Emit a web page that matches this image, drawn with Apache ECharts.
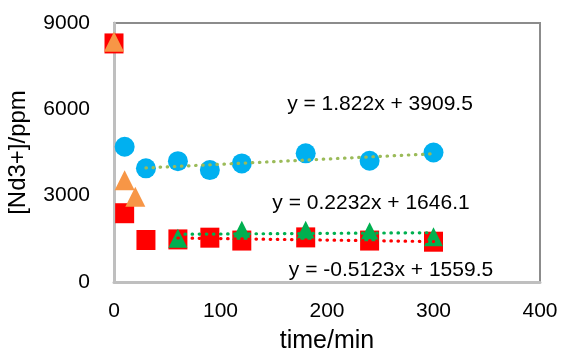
<!DOCTYPE html>
<html><head><meta charset="utf-8">
<script src="https://cdn.jsdelivr.net/npm/echarts@6/dist/echarts.min.js"></script>
<style>html,body{margin:0;padding:0;background:#fff}#c{width:561px;height:350px}</style>
</head><body><div id="c"></div>
<script>
// Data
const xTicks = [0, 100, 200, 300, 400];
const yTicks = [0, 3000, 6000, 9000];
const blueX = [10, 30, 60, 90, 120, 180, 240, 300];
const blueY = [4700, 3950, 4200, 3890, 4120, 4470, 4215, 4500];
const redX = [0, 10, 30, 60, 90, 120, 180, 240, 300];
const redY = [8290, 2390, 1460, 1480, 1540, 1440, 1550, 1440, 1400];
const orangeX = [0, 10, 20];
const orangeY = [8350, 3540, 2960];
const greenX = [60, 120, 180, 240, 300];
const greenY = [1520, 1800, 1800, 1750, 1575];
// Trendlines (slope, intercept, x range) as shown in the equations
const trendBlue = {m: 1.822, b: 3909.5, x0: 30, x1: 300, label: 'y = 1.822x + 3909.5'};
const trendGreen = {m: 0.2232, b: 1646.1, x0: 60, x1: 300, label: 'y = 0.2232x + 1646.1'};
const trendRed = {m: -0.5123, b: 1559.5, x0: 60, x1: 300, label: 'y = -0.5123x + 1559.5'};

const pairs = (xs, ys) => xs.map((x, i) => [x, ys[i]]);
const line = t => [[t.x0, t.m * t.x0 + t.b], [t.x1, t.m * t.x1 + t.b]];
const FONT = 'Liberation Sans';

const chart = echarts.init(document.getElementById('c'));
const dotted = (color) => ({
  type: 'line', symbol: 'none', silent: true, z: 5,
  lineStyle: {color: color, width: 3.2, type: [0.5, 6.6], cap: 'round'}
});
const eqText = (x, y, t) => ({type: 'text', x: x, y: y, z: 10,
  style: {text: t, fill: '#000', font: '21px "' + FONT + '"', textAlign: 'center', textVerticalAlign: 'middle'}});
chart.setOption({
  animation: false,
  textStyle: {fontFamily: FONT},
  grid: {left: 114, top: 23, width: 426, height: 259, show: true, borderColor: '#8C8C8C', borderWidth: 2,
         containLabel: false, outerBoundsMode: 'none'},
  xAxis: {
    type: 'value', min: xTicks[0], max: xTicks[xTicks.length - 1], interval: 100,
    axisLine: {show: true, lineStyle: {color: '#BFBFBF', width: 3}},
    axisTick: {show: false}, splitLine: {show: false},
    axisLabel: {color: '#000', fontSize: 21, margin: 19, fontFamily: FONT},
    name: 'time/min', nameLocation: 'middle', nameGap: 47,
    nameTextStyle: {color: '#000', fontSize: 25, fontFamily: FONT}
  },
  yAxis: {
    type: 'value', min: yTicks[0], max: yTicks[yTicks.length - 1], interval: 3000,
    axisLine: {show: true, lineStyle: {color: '#BFBFBF', width: 3}},
    axisTick: {show: false}, splitLine: {show: false},
    axisLabel: {color: '#000', fontSize: 21, margin: 24, fontFamily: FONT, formatter: v => String(v)},
    name: '[Nd3+]/ppm', nameLocation: 'middle', nameGap: 84,
    nameTextStyle: {color: '#000', fontSize: 24, fontFamily: FONT}
  },
  series: [
    {type: 'scatter', data: pairs(redX, redY), symbol: 'rect', symbolSize: [19, 20], itemStyle: {color: '#FF0000', opacity: 1}, z: 2},
    {type: 'scatter', data: pairs(orangeX, orangeY), symbol: 'triangle', symbolSize: [20, 20], itemStyle: {color: '#F79646', opacity: 1}, z: 3},
    {type: 'scatter', data: pairs(blueX, blueY), symbol: 'circle', symbolSize: 20, itemStyle: {color: '#00B0F0', opacity: 1}, z: 3},
    {type: 'scatter', data: pairs(greenX, greenY), symbol: 'triangle', symbolSize: [19, 19], itemStyle: {color: '#00B050', opacity: 1}, z: 4},
    Object.assign(dotted('#9BBB59'), {data: line(trendBlue)}),
    Object.assign(dotted('#FF0000'), {data: line(trendRed)}),
    Object.assign(dotted('#00B050'), {data: line(trendGreen)})
  ],
  graphic: [
    eqText(380, 104, trendBlue.label),
    eqText(371, 203, trendGreen.label),
    eqText(391, 270, trendRed.label)
  ]
});
</script></body></html>
